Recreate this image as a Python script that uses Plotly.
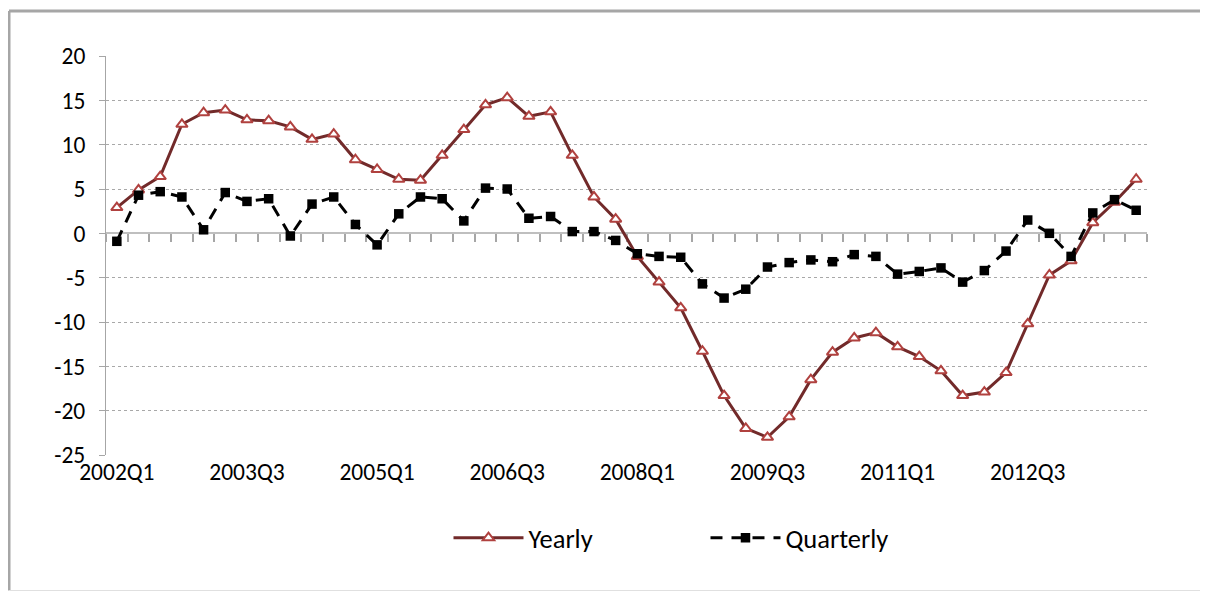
import numpy as np
import plotly.graph_objects as go

# quarters 2002Q1 .. 2013Q4
quarters = [f"{y}Q{q}" for y in range(2002, 2014) for q in range(1, 5)]

yearly = [2.9, 4.9, 6.4, 12.3, 13.6, 13.9, 12.8, 12.7, 12.0, 10.6, 11.2, 8.3,
          7.2, 6.1, 6.0, 8.8, 11.7, 14.5, 15.3, 13.2, 13.7, 8.8, 4.1, 1.6,
          -2.6, -5.5, -8.4, -13.3, -18.3, -22.0, -23.0, -20.7, -16.5, -13.4, -11.8, -11.2,
          -12.8, -13.9, -15.5, -18.3, -17.9, -15.7, -10.2, -4.7, -3.1, 1.2, 3.5, 6.1]

quarterly = [-0.9, 4.3, 4.7, 4.1, 0.4, 4.6, 3.6, 3.9, -0.3, 3.3, 4.1, 1.0,
             -1.3, 2.2, 4.1, 3.9, 1.4, 5.1, 5.0, 1.7, 1.9, 0.2, 0.2, -0.8,
             -2.3, -2.6, -2.7, -5.7, -7.3, -6.3, -3.8, -3.3, -3.0, -3.2, -2.4, -2.6,
             -4.6, -4.3, -3.9, -5.5, -4.2, -2.0, 1.5, 0.0, -2.6, 2.3, 3.8, 2.6]

label_every = 6
y_ticks = [20, 15, 10, 5, 0, -5, -10, -15, -20, -25]
y_min, y_max = min(y_ticks), max(y_ticks)

font = "Calibri, Carlito, Lato, sans-serif"
grey = "#A6A6A6"

x = np.arange(len(quarters))

fig = go.Figure()

fig.add_trace(go.Scatter(
    x=x, y=yearly, name="Yearly", mode="lines+markers",
    line=dict(color="#722A2A", width=3),
    marker=dict(symbol="triangle-up", size=10, color="white",
                line=dict(color="#B0413F", width=2)),
))

fig.add_trace(go.Scatter(
    x=x, y=quarterly, name="Quarterly", mode="lines+markers", xaxis="x2",
    line=dict(color="black", width=3, dash="12px,9px"),
    marker=dict(symbol="square", size=9.5, color="black"),
))

# chart-area frame (only left/top/bottom edges are visible in the crop)
frame_l = (9 - 106) / 1041
frame_t = 1 + (56 - 11) / 399
frame_b = -(590.5 - 455) / 399
frame = [
    dict(type="line", xref="paper", yref="paper", x0=frame_l, x1=frame_l,
         y0=frame_b, y1=frame_t, line=dict(color=grey, width=3), layer="below"),
    dict(type="line", xref="paper", yref="paper", x0=frame_l, x1=1.1,
         y0=frame_t, y1=frame_t, line=dict(color=grey, width=3), layer="below"),
    dict(type="line", xref="paper", yref="paper", x0=frame_l, x1=1.1,
         y0=frame_b, y1=frame_b, line=dict(color="#E0E0E0", width=1), layer="below"),
]

# page body has an 8px margin -> figure is 8px smaller and offset
fig.update_layout(
    width=1200, height=584,
    margin=dict(l=98, r=61, t=48, b=137),
    paper_bgcolor="white", plot_bgcolor="white",
    font=dict(family=font, size=23.5, color="black"),
    showlegend=True,
    legend=dict(orientation="h", x=0.329, xanchor="left", y=-0.208, yanchor="middle",
                itemwidth=70, entrywidth=172, font=dict(size=26.5)),
    xaxis=dict(
        range=[-0.5, len(quarters) - 0.5],
        tickvals=list(x[::label_every]),
        ticktext=quarters[::label_every],
        showline=False, showgrid=False, zeroline=False, ticks="",
    ),
    xaxis2=dict(
        overlaying="x", anchor="free", position=(0 - y_min) / (y_max - y_min),
        range=[-0.5, len(quarters) - 0.5],
        tickvals=list(np.arange(len(quarters) + 1) - 0.5),
        showticklabels=False, showgrid=False, zeroline=False,
        showline=True, linecolor="#BFBFBF", linewidth=2,
        ticks="outside", ticklen=8, tickcolor=grey, tickwidth=1.5,
        layer="below traces",
    ),
    yaxis=dict(
        range=[y_min, y_max],
        tickvals=y_ticks, ticktext=[str(v) for v in y_ticks],
        showgrid=True, gridcolor="#A8A8A8", griddash="dot", gridwidth=1,
        zeroline=False,
        showline=True, linecolor=grey, linewidth=1,
        ticks="outside", ticklen=6, tickcolor=grey,
        ticklabelstandoff=9,
        layer="below traces",
    ),
    shapes=frame,
)

fig.write_html("out.html")
